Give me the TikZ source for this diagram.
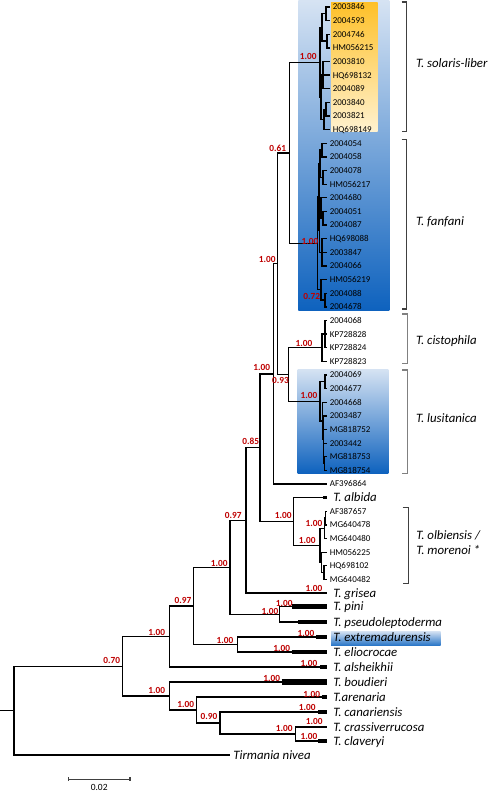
\documentclass[tikz,border=0pt]{standalone}
\usepackage{fontspec}
\setmainfont{Carlito}
\usetikzlibrary{calc}

\definecolor{suppred}{RGB}{190,0,0}
\definecolor{bluetop}{RGB}{214,227,243}
\definecolor{bluebot}{RGB}{14,98,190}
\definecolor{goldtop}{RGB}{254,192,40}
\definecolor{goldbot}{RGB}{255,242,208}
\definecolor{extbot}{RGB}{45,120,200}
\definecolor{brkdark}{RGB}{64,64,64}
\definecolor{brklight}{RGB}{128,128,128}

% internal node: x position, y halfway between first and last child
\newcommand{\tnode}[4]{%
  \coordinate (tmpmid) at ($(#3)!0.5!(#4)$);
  \coordinate (#1) at (#2,0 |- tmpmid);
  \draw[branch] (#1) |- (#3);
  \draw[branch] (#1) |- (#4);}

\begin{document}
\begin{tikzpicture}[x=0.02cm, y=-0.02cm,
  branch/.style={line width=0.75pt},
  bar/.style={line width=2.4pt},
  idlab/.style={anchor=west, inner sep=0pt, xshift=0.5mm, text height=3.3pt, text depth=0pt, font=\fontsize{5.1}{6}\selectfont},
  splab/.style={anchor=west, inner sep=0pt, text height=4.6pt, text depth=0pt, font=\itshape\fontsize{7.3}{8}\selectfont},
  supp/.style={inner sep=0pt, text=suppred, font=\bfseries\fontsize{5.3}{6}\selectfont},
  brk/.style={line width=0.7pt, draw=brkdark},
  scalebar/.style={line width=0.7pt, draw=brkdark}]
\def\rowtop{7}
\def\rowh{13.63}
\def\idtip{327}

\useasboundingbox (0,0) rectangle (489,791);

% shaded boxes
\shade[top color=bluetop, bottom color=bluebot] (298.3,0.5) rectangle (389.3,310);
\shade[top color=goldtop, bottom color=goldbot] (331,2) rectangle (377.7,131.7);
\shade[top color=bluetop, bottom color=bluebot] (297.7,369) rectangle (388.3,473.3);
\shade[top color=bluetop, bottom color=extbot] (331,631) rectangle (440.7,645);

% sequence tips
\foreach \lab [count=\i from 0] in {2003846,2004593,2004746,HM056215,2003810,HQ698132,2004089,2003840,2003821,HQ698149} {
  \coordinate (t\i) at (330,\rowtop+\rowh*\i);
  \node[idlab] (id\i) at (t\i) {\lab};
}
\foreach \lab [count=\i from 10] in {2004054,2004058,2004078,HM056217,2004680,2004051,2004087,HQ698088,2003847,2004066,HM056219,2004088,2004678,2004068,KP728828,KP728824,KP728823,2004069,2004677,2004668,2003487,MG818752,2003442,MG818753,MG818754,AF396864} {
  \coordinate (t\i) at (\idtip,\rowtop+\rowh*\i);
  \node[idlab] (id\i) at (t\i) {\lab};
}
\foreach \lab [count=\i from 37] in {AF387657,MG640478,MG640480,HM056225,HQ698102,MG640482} {
  \coordinate (t\i) at (\idtip,\rowtop+\rowh*\i);
  \node[idlab] (id\i) at (t\i) {\lab};
}

% collapsed species
\foreach \nm/\yy/\xs/\lw/\txt in {albida/497.7/323.3/1.8pt/T. albida,
    grisea/593.1/323.3/1.5pt/T. grisea,
    pini/606.7/291.7/2.8pt/T. pini,
    pseudo/622/298.3/2.6pt/T. pseudoleptoderma,
    extrem/637/316/2.4pt/T. extremadurensis,
    elio/652/291.7/2.6pt/T. eliocrocae,
    alsh/667/320/2pt/T. alsheikhii,
    boud/682/281.7/3pt/T. boudieri,
    aren/697/321.7/2pt/T.arenaria,
    canar/712/318.3/2pt/T. canariensis,
    crassi/727/323.3/1.6pt/T. crassiverrucosa,
    clav/741/318.3/2pt/T. claveryi} {
  \coordinate (\nm0) at (\xs,\yy);
  \coordinate (\nm1) at (327,\yy);
  \draw[bar, line width=\lw] (\nm0) -- (\nm1);
  \node[splab, xshift=1.2mm] (\nm) at (\nm1) {\txt};
}
\coordinate (tirm) at (230,755);
\node[splab, xshift=0.6mm] (tirmlab) at (tirm) {Tirmania nivea};

% T. solaris-liber
\tnode{a1}{326}{t0}{t1}
\tnode{a2}{327}{t2}{t3}
\tnode{a3}{322}{a1}{a2}
\tnode{a4}{323}{t4}{t6}
\draw[branch] (a4) |- (t5);
\tnode{a5}{326}{t7}{t8}
\tnode{a6}{324}{a5}{t9}
\tnode{b1}{321}{a4}{a6}
\tnode{sol}{320}{a3}{b1}
% T. fanfani
\tnode{f1}{322}{t10}{t11}
\tnode{f2}{323}{t12}{t13}
\tnode{f3}{320}{f1}{f2}
\tnode{f4}{323}{t15}{t16}
\tnode{f5}{321}{t14}{f4}
\tnode{f6}{322}{t17}{t19}
\draw[branch] (f6) |- (t18);
\tnode{g1}{319.5}{f5}{f6}
\tnode{g2}{319}{f3}{g1}
\tnode{f7}{325}{t21}{t22}
\tnode{f8}{321}{t20}{f7}
\tnode{fan}{317.7}{g2}{f8}
\tnode{n061}{289.3}{sol}{fan}
% T. cistophila
\tnode{c1}{325}{t23}{t25}
\draw[branch] (c1) |- (t24);
\tnode{cis}{322}{c1}{t26}
% T. lusitanica
\tnode{lu1}{325}{t27}{t28}
\tnode{lu3}{324.5}{t33}{t34}
\tnode{lu4}{323.5}{t30}{lu3}
\draw[branch] (lu4) |- (t31);
\draw[branch] (lu4) |- (t32);
\tnode{lu2}{322.5}{t29}{lu4}
\tnode{lus}{320}{lu1}{lu2}
\tnode{n093}{288.3}{cis}{lus}
\tnode{nq}{277.7}{n061}{n093}
\tnode{nr}{273.3}{nq}{t35}
% T. olbiensis / T. morenoi
\tnode{ol2}{325.5}{t37}{t38}
\tnode{ol1}{324.5}{ol2}{t39}
\tnode{ol3}{324}{t41}{t42}
\tnode{ol4}{321.5}{t40}{ol3}
\tnode{olb}{320}{ol1}{ol4}
\tnode{nt}{293.3}{albida0}{olb}
\tnode{ns}{260}{nr}{nt}
\tnode{n097a}{246}{ns}{grisea0}
\tnode{pp}{279.3}{pini0}{pseudo0}
\tnode{n100a}{230}{n097a}{pp}
\tnode{ee}{237.7}{extrem0}{elio0}
\tnode{n097b}{193.3}{n100a}{ee}
\tnode{n100b}{169.7}{n097b}{alsh0}
% lower clade
\tnode{cc}{295.3}{crassi0}{clav0}
\tnode{n090}{220}{canar0}{cc}
\tnode{n100c}{196.7}{aren0}{n090}
\tnode{n100d}{169.3}{boud0}{n100c}
\tnode{n070}{122.7}{n100b}{n100d}
\tnode{root}{14}{n070}{tirm}
\coordinate (stub) at (0,0 |- root);
\draw[branch] (stub) -- (root);

% support values
\foreach \sv/\xx/\yy [count=\k] in {1.00/308.3/56.7, 0.61/277.8/148.3, 1.00/310/241.7,
    0.72/311.7/296.7, 1.00/267.3/259, 1.00/304/343, 1.00/261.7/367.5, 0.93/280.5/380.7,
    1.00/309/395, 0.85/250.7/441.7, 1.00/283.3/515, 0.97/233.3/515, 1.00/314/523.3,
    1.00/307.3/540, 1.00/314/588.3, 1.00/219.3/563.3, 1.00/270/611.7, 1.00/284.3/603.3,
    0.97/183/600.7, 1.00/225/640, 1.00/306/633.3, 1.00/281.7/648.3, 1.00/156.7/632.7,
    1.00/309/663.3, 1.00/271.7/678.3, 0.70/111.7/660, 1.00/156.7/690.7, 1.00/185.7/704,
    1.00/311.7/694, 1.00/307.3/707.3, 0.90/209/716.7, 1.00/284.3/728.3,
    1.00/314.3/721.7, 1.00/309/736.7}
  \node[supp] (bs\k) at (\xx,\yy) {\sv};

% clade brackets
\draw[brk] (401.7,2) -- (406.7,2) -- (406.7,131.7) -- (401.7,131.7);
\node[splab] (sollab) at (415.7,63.3) {T. solaris-liber};
\draw[brk] (401.7,139.3) -- (406.7,139.3) -- (406.7,309) -- (401.7,309);
\node[splab] (fanlab) at (415.7,221.7) {T. fanfani};
\draw[brk, draw=brklight] (402.3,314) -- (407.3,314) -- (407.3,363.3) -- (402.3,363.3);
\node[splab] (cislab) at (415.7,340.7) {T. cistophila};
\draw[brk, draw=brklight] (402.3,370) -- (407.3,370) -- (407.3,473.3) -- (402.3,473.3);
\node[splab] (luslab) at (415.7,418.3) {T. lusitanica};
\draw[brk] (402.7,507.7) -- (408.3,507.7) -- (408.3,583.3) -- (402.7,583.3);
\node[splab] (olblab) at (416,535.7) {T. olbiensis /};
\node[splab] (morlab) at (416,550) {T. morenoi *};

% scale bar
\coordinate (sb0) at (68.3,779.3);
\coordinate (sb1) at (130,779.3);
\draw[scalebar] (sb0) -- (sb1);
\draw[scalebar] ($(sb0)+(0,-2)$) -- ($(sb0)+(0,2)$);
\draw[scalebar] ($(sb1)+(0,-2)$) -- ($(sb1)+(0,2)$);
\node[inner sep=0pt, font=\fontsize{5.4}{6}\selectfont] (sblab) at (99.2,787.7) {0.02};
\end{tikzpicture}
\end{document}
